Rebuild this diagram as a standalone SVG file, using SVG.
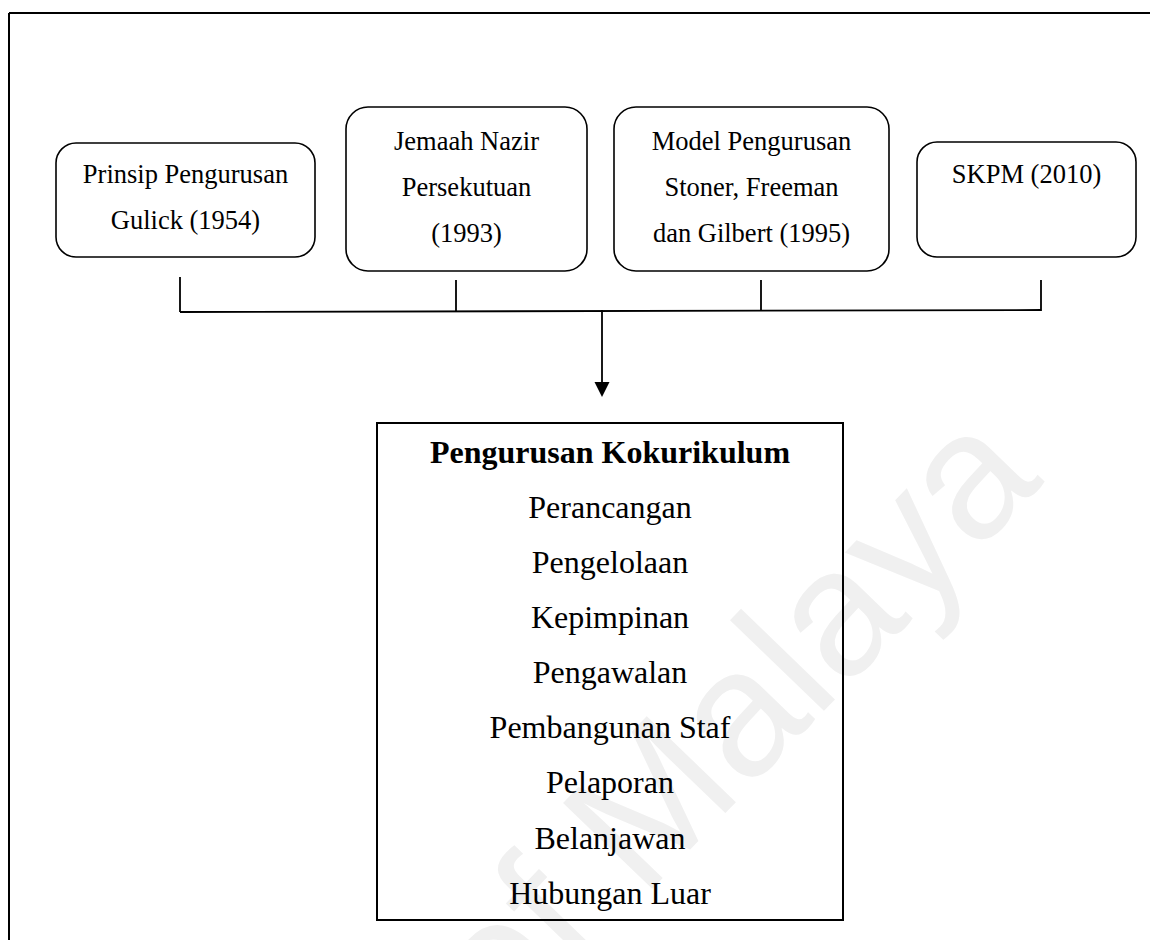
<svg xmlns="http://www.w3.org/2000/svg" width="1150" height="940" viewBox="0 0 1150 940">
<style>
.nb{fill:#fff;stroke:#000;stroke-width:1.6}
.t{font-family:"Liberation Serif","Times New Roman",serif;font-size:26.5px;fill:#000;text-anchor:middle}
.m{font-family:"Liberation Serif","Times New Roman",serif;font-size:32px;fill:#000;text-anchor:middle}
.b{font-weight:bold}
.c{stroke:#000;stroke-width:1.8;fill:none}
.wm{font-family:"Liberation Sans",Arial,sans-serif;font-size:180px;fill:#f0f0f0}
</style>
<rect x="0" y="0" width="1150" height="940" fill="#fff"/>
<text class="wm" transform="translate(1045,482) rotate(-46)" text-anchor="end">of Malaya</text>
<g id="frame">
<path d="M9,13 H1150 M9,13 V940" stroke="#000" stroke-width="2" fill="none"/>
</g>
<g id="connectors">
<path class="c" d="M180,312 L1041,310"/>
<path class="c" d="M180,277 V312 M456,280 V312 M761,280 V311 M1041,280 V311"/>
<path class="c" d="M602,310 V384"/>
<polygon points="594.5,382 609.5,382 602,397" fill="#000"/>
</g>
<g id="node-gulick">
<rect class="nb" x="56" y="143" width="259" height="114" rx="20"/>
<text class="t" x="185.5" y="183">Prinsip Pengurusan</text>
<text class="t" x="185.5" y="229">Gulick (1954)</text>
</g>
<g id="node-jemaah">
<rect class="nb" x="346" y="107" width="241" height="164" rx="22"/>
<text class="t" x="466.5" y="150">Jemaah Nazir</text>
<text class="t" x="466.5" y="196">Persekutuan</text>
<text class="t" x="466.5" y="242">(1993)</text>
</g>
<g id="node-model">
<rect class="nb" x="614" y="107" width="275" height="164" rx="22"/>
<text class="t" x="751.5" y="150">Model Pengurusan</text>
<text class="t" x="751.5" y="196">Stoner, Freeman</text>
<text class="t" x="751.5" y="242">dan Gilbert (1995)</text>
</g>
<g id="node-skpm">
<rect class="nb" x="917" y="142" width="219" height="115" rx="20"/>
<text class="t" x="1026.5" y="183">SKPM (2010)</text>
</g>
<g id="node-kokurikulum">
<rect x="377" y="423" width="466" height="497" fill="none" stroke="#000" stroke-width="2"/>
<text class="m b" x="610" y="463">Pengurusan Kokurikulum</text>
<text class="m" x="610" y="518">Perancangan</text>
<text class="m" x="610" y="573">Pengelolaan</text>
<text class="m" x="610" y="628">Kepimpinan</text>
<text class="m" x="610" y="683">Pengawalan</text>
<text class="m" x="610" y="738">Pembangunan Staf</text>
<text class="m" x="610" y="793">Pelaporan</text>
<text class="m" x="610" y="849">Belanjawan</text>
<text class="m" x="610" y="904">Hubungan Luar</text>
</g>
</svg>
